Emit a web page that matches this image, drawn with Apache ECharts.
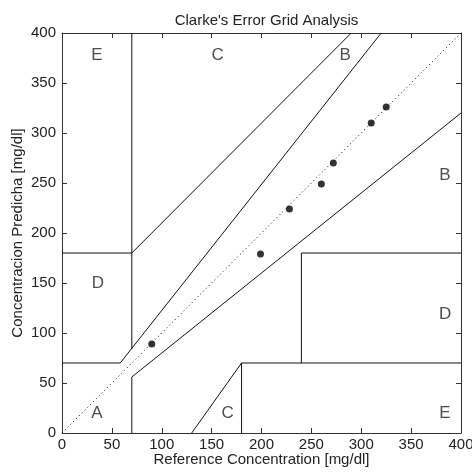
<!DOCTYPE html>
<html><head><meta charset="utf-8">
<script src="https://cdn.jsdelivr.net/npm/echarts@6/dist/echarts.min.js"></script>
<style>html,body{margin:0;padding:0;background:#fff}#c{width:472px;height:475px}</style>
</head><body><div id="c"></div>
<script>
// ---- data ----
const axisTicks = [0, 50, 100, 150, 200, 250, 300, 350, 400];
const referenceValues = [90, 199, 228, 260, 272, 310, 325];
const predictedValues = [89, 179, 224, 249, 270, 310, 326];
// zone boundary segments [x1, y1, x2, y2] (Clarke error grid)
const boundaryX1 = [0, 175/3, 70, 0, 70, 70, 70, 180, 180, 240, 240, 130];
const boundaryY1 = [70, 70, 84, 180, 180, 0, 56, 0, 70, 70, 180, 0];
const boundaryX2 = [175/3, 320, 70, 70, 290, 70, 400, 180, 400, 240, 400, 180];
const boundaryY2 = [70, 400, 400, 180, 400, 56, 320, 70, 70, 180, 180, 70];
const zoneLetters = ['A', 'B', 'B', 'C', 'C', 'D', 'D', 'E', 'E'];
const zoneX = [35, 384, 284, 156, 166, 36, 384, 35, 384];
const zoneY = [20, 258, 378, 378, 20, 150, 119, 378, 20];

// ---- chart ----
const FONT = "'Liberation Sans Narrow', 'Liberation Sans', Arial, sans-serif";
const chart = echarts.init(document.getElementById('c'), null, {renderer: 'canvas'});
const lineColor = '#111';
const boundarySeries = boundaryX1.map((x1, i) => ({
  type: 'line', xAxisIndex: 0, yAxisIndex: 0,
  data: [[x1, boundaryY1[i]], [boundaryX2[i], boundaryY2[i]]],
  showSymbol: false, symbol: 'none', silent: true, animation: false,
  lineStyle: {color: lineColor, width: 1}
}));
const baseX = {
  type: 'value', min: 0, max: 400, interval: 50,
  axisLine: {show: true, onZero: false, lineStyle: {color: '#333', width: 1}},
  axisTick: {show: true, inside: true, length: 5, lineStyle: {color: '#333'}},
  splitLine: {show: false}
};
const labelStyle = {color: '#222', fontFamily: FONT, fontSize: 15};
const option = {
  backgroundColor: '#fff',
  animation: false,
  title: {
    text: "Clarke's Error Grid Analysis", left: 261.5, textAlign: 'center', top: 8,
    textStyle: {fontFamily: FONT, fontSize: 15, fontWeight: 'normal', color: '#222'}
  },
  grid: {left: 62, right: 11, top: 33, bottom: 42, containLabel: false, outerBoundsMode: 'none'},
  xAxis: [
    Object.assign({}, baseX, {
      position: 'bottom', name: 'Reference Concentration [mg/dl]', nameLocation: 'middle', nameGap: 19,
      nameMoveOverlap: false,
      nameTextStyle: labelStyle,
      axisLabel: Object.assign({margin: 4}, labelStyle)
    }),
    Object.assign({}, baseX, {position: 'top', axisLabel: {show: false}})
  ],
  yAxis: [
    Object.assign({}, baseX, {
      position: 'left', name: 'Concentracion Predicha [mg/dl]', nameLocation: 'middle', nameGap: 37,
      nameMoveOverlap: false,
      nameTextStyle: labelStyle,
      axisLabel: Object.assign({margin: 6}, labelStyle)
    }),
    Object.assign({}, baseX, {position: 'right', axisLabel: {show: false}})
  ],
  series: [
    {
      type: 'line', data: [[0, 0], [400, 400]], showSymbol: false, symbol: 'none', silent: true,
      lineStyle: {color: '#000', width: 1, type: [1, 3]}
    },
    ...boundarySeries,
    {
      type: 'scatter', data: referenceValues.map((x, i) => [x, predictedValues[i]]),
      symbol: 'circle', symbolSize: 7, itemStyle: {color: '#000'}
    },
    {
      type: 'scatter', data: zoneLetters.map((t, i) => [zoneX[i], zoneY[i], t]),
      symbolSize: 1, itemStyle: {color: 'rgba(0,0,0,0)'}, silent: true,
      label: {show: true, position: 'inside', formatter: p => p.data[2],
        fontFamily: FONT, fontSize: 17, color: '#222'}
    }
  ]
};
chart.setOption(option);
</script>
</body></html>
